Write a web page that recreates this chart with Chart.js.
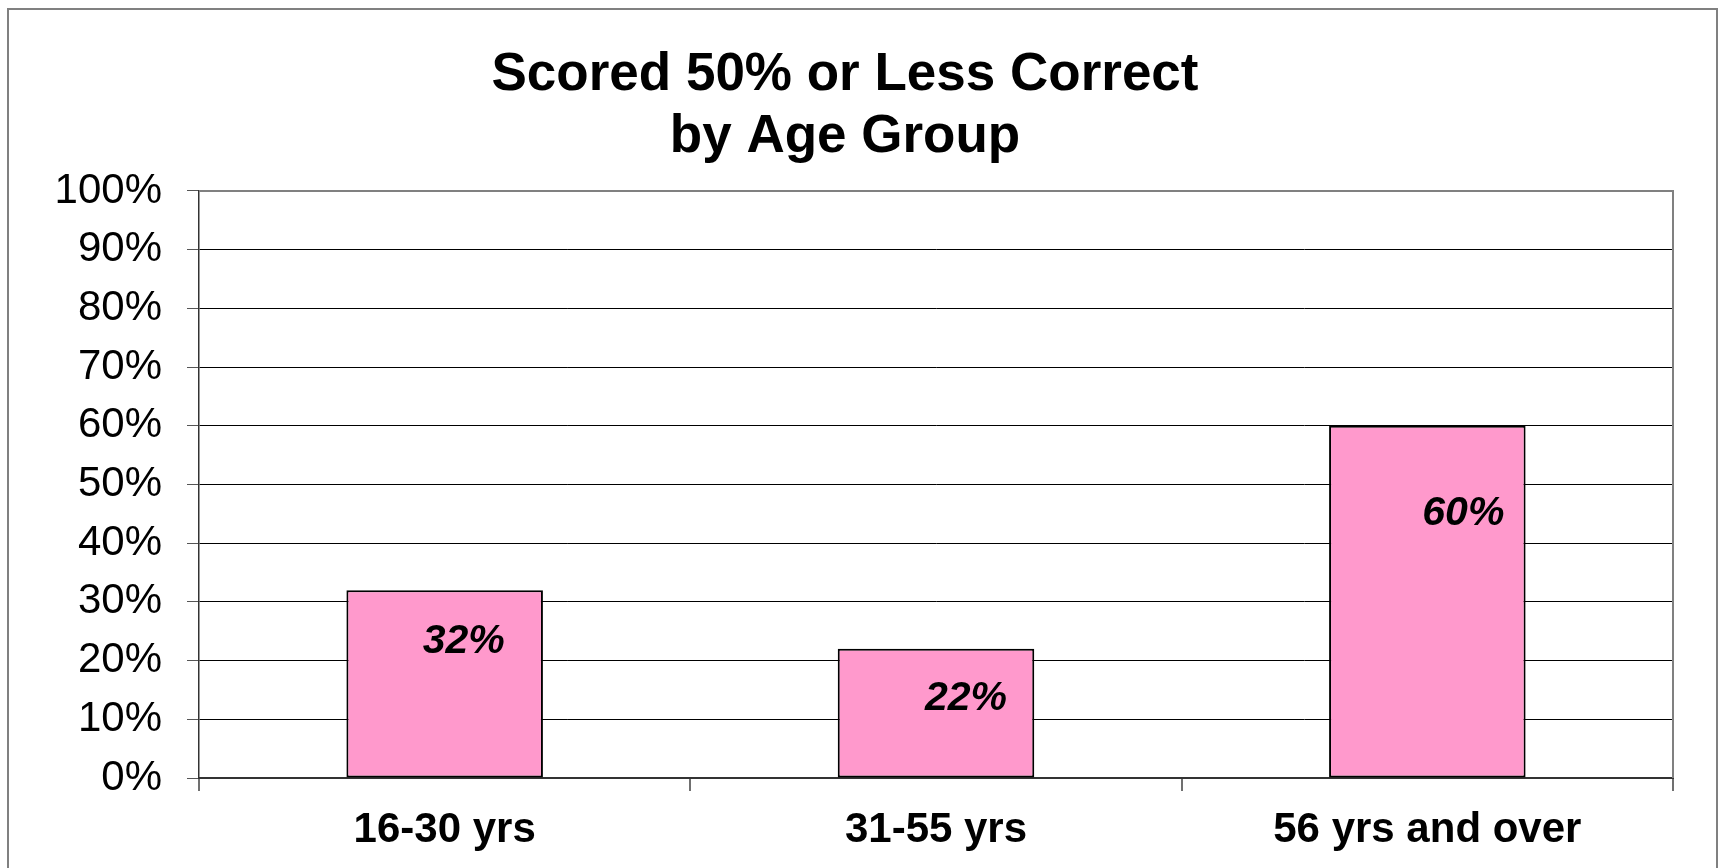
<!DOCTYPE html>
<html>
<head>
<meta charset="utf-8">
<script src="https://cdn.jsdelivr.net/npm/chart.js@4.4.1/dist/chart.umd.min.js"></script>
<style>
  html, body { margin: 0; padding: 0; background: #fff; }
  #wrap { position: relative; width: 1725px; height: 868px; }
</style>
</head>
<body>
<div id="wrap"><canvas id="graphCanvas" width="1725" height="868"></canvas></div>
<script>
// chart data
var ageGroups = ['16-30 yrs', '31-55 yrs', '56 yrs and over'];
var scoredLow = [32, 22, 60];
var titleLines = ['Scored 50% or Less Correct', 'by Age Group'];

// label nudges inside the bars (px from bar top / centre), like the excel placement
var labelShiftX = [19, 30, 36];
var labelShiftY = [52, 50, 88];

var frame = {
    id: 'frame',
    beforeDraw: function (chart) {
        var ctx = chart.ctx;
        ctx.save();
        ctx.fillStyle = '#fff';
        ctx.fillRect(0, 0, chart.width, chart.height);
        ctx.strokeStyle = '#808080';
        ctx.lineWidth = 2;
        ctx.strokeRect(8, 9, chart.width - 16, chart.height + 20);
        ctx.restore();
    },
    afterDatasetsDraw: function (chart) {
        var ctx = chart.ctx;
        var a = chart.chartArea;
        ctx.save();
        // grey plot border top and right
        ctx.strokeStyle = '#808080';
        ctx.lineWidth = 2;
        ctx.beginPath();
        ctx.moveTo(a.left, a.top);
        ctx.lineTo(a.right, a.top);
        ctx.lineTo(a.right, a.bottom);
        ctx.stroke();
        // value labels
        var meta = chart.getDatasetMeta(0);
        ctx.fillStyle = '#000';
        ctx.font = 'italic bold 41px "Liberation Sans", Arial, sans-serif';
        ctx.textAlign = 'center';
        ctx.textBaseline = 'middle';
        meta.data.forEach(function (bar, i) {
            ctx.fillText(scoredLow[i] + '%', bar.x + labelShiftX[i], bar.y + labelShiftY[i]);
        });
        ctx.restore();
    }
};

var chartdata = {
    labels: ageGroups,
    datasets: [{
        label: 'Scored 50% or Less Correct',
        data: scoredLow,
        backgroundColor: '#FF99CC',
        borderColor: '#000',
        borderWidth: 2,
        borderSkipped: false,
        categoryPercentage: 1,
        barPercentage: 0.4
    }]
};

var LineGraph = new Chart(document.getElementById('graphCanvas'), {
    type: 'bar',
    data: chartdata,
    plugins: [frame],
    options: {
        responsive: false,
        animation: false,
        layout: { padding: { left: 0, right: 35, top: 0, bottom: 0 } },
        plugins: {
            legend: { display: false },
            tooltip: { enabled: false },
            title: {
                display: true,
                text: titleLines,
                color: '#000',
                font: { family: '"Liberation Sans", Arial, sans-serif', size: 53, weight: 'bold', lineHeight: 1.16 },
                padding: { top: 45, bottom: 23 }
            }
        },
        scales: {
            y: {
                min: 0,
                max: 100,
                ticks: {
                    stepSize: 10,
                    padding: 25,
                    color: '#000',
                    font: { family: '"Liberation Sans", Arial, sans-serif', size: 42 },
                    callback: function (v) { return v + '%'; }
                },
                grid: {
                    color: '#000',
                    lineWidth: 1,
                    tickLength: 12,
                    tickColor: '#555'
                },
                border: { color: '#333', width: 1.5 },
                afterFit: function (s) { s.width = 199; }
            },
            // empty spacer on the right so the title sits where excel put it
            y2: {
                position: 'right',
                min: 0,
                max: 100,
                ticks: { display: false },
                grid: { display: false },
                border: { display: false },
                afterFit: function (s) { s.width = 17; }
            },
            x: {
                ticks: {
                    padding: 14,
                    color: '#000',
                    font: { family: '"Liberation Sans", Arial, sans-serif', size: 42, weight: 'bold' }
                },
                grid: {
                    offset: true,
                    drawOnChartArea: false,
                    tickLength: 13,
                    tickColor: '#707070',
                    lineWidth: 2
                },
                border: { color: '#333', width: 2 },
                afterFit: function (s) { s.height = 90; }
            }
        }
    }
});
</script>
</body>
</html>
